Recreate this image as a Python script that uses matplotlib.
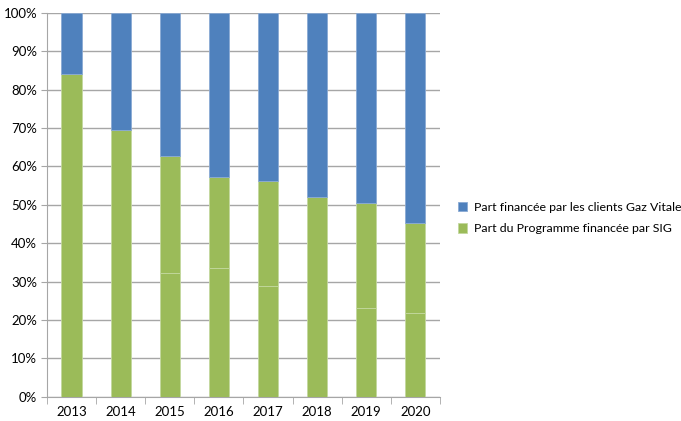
import matplotlib.pyplot as plt
from matplotlib.ticker import FuncFormatter

years = ["2013", "2014", "2015", "2016", "2017", "2018", "2019", "2020"]
# part SIG (green), split in two segments as in the source chart
sig_low = [84.0, 69.4, 32.2, 33.5, 28.9, 52.1, 23.1, 21.9]
sig_total = [84.0, 69.4, 62.7, 57.3, 56.3, 52.1, 50.4, 45.3]
clients = [100 - v for v in sig_total]

blue = "#4f81bd"
green = "#9bbb59"
grid_col = "#a6a6a6"

plt.rcParams["font.family"] = ["Lato", "DejaVu Sans"]

fig = plt.figure(figsize=(6.81, 4.21), dpi=100)
ax = fig.add_axes([0.069, 0.058, 0.577, 0.911])

x = list(range(len(years)))
sig_high = [t - l for t, l in zip(sig_total, sig_low)]
ax.bar(x, sig_low, width=0.41, color=green, edgecolor="#c3d89e", linewidth=0.6, zorder=3)
ax.bar(x, sig_high, width=0.41, bottom=sig_low, color=green, edgecolor="#c3d89e",
       linewidth=0.6, zorder=3, label="Part du Programme financée par SIG")
ax.bar(x, clients, width=0.41, bottom=sig_total, color=blue, edgecolor="#8aaad4",
       linewidth=0.6, zorder=3, label="Part financée par les clients Gaz Vitale")

ax.set_xlim(-0.5, len(years) - 0.5)
ax.set_ylim(0, 100)
ax.set_yticks(range(0, 101, 10))
ax.yaxis.set_major_formatter(FuncFormatter(lambda v, p: f"{int(v)}%"))
ax.set_xticks(x)
ax.set_xticklabels(years)
ax.set_xticks([i - 0.5 for i in range(len(years) + 1)], minor=True)
ax.tick_params(axis="x", which="major", length=0, pad=7, labelsize=9.5)
ax.tick_params(axis="x", which="minor", length=5, color=grid_col, direction="out")
ax.tick_params(axis="y", length=4, color=grid_col, labelsize=9.5, pad=3)

ax.grid(axis="y", color=grid_col, linewidth=1, zorder=0)
for side in ["top", "right"]:
    ax.spines[side].set_visible(False)
for side in ["left", "bottom"]:
    ax.spines[side].set_color(grid_col)

handles, labels = ax.get_legend_handles_labels()
fig.legend(handles[::-1], labels[::-1], loc="center left", bbox_to_anchor=(0.66, 0.482),
           frameon=False, fontsize=8.9, handlelength=0.75, handleheight=0.75,
           handletextpad=0.5, labelspacing=0.85, borderpad=0.2)

fig.savefig("out.png", dpi=100)
